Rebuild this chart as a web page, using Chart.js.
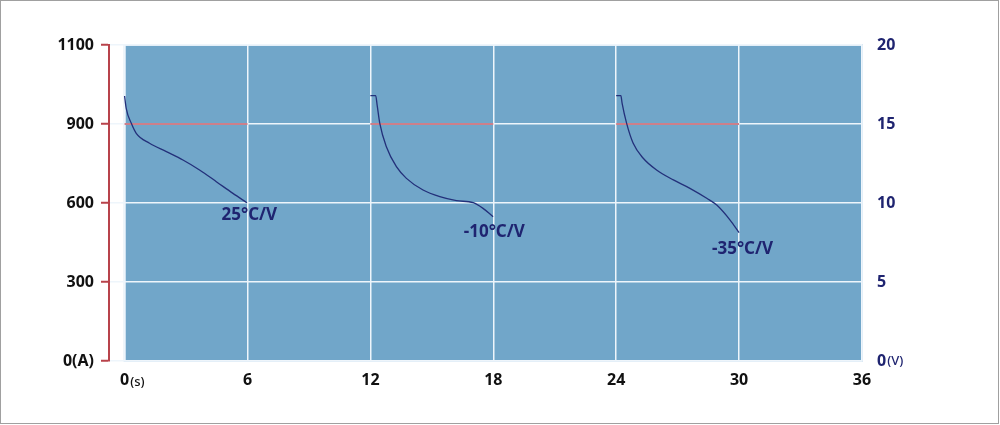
<!DOCTYPE html>
<html>
<head>
<meta charset="utf-8">
<script src="https://cdn.jsdelivr.net/npm/chart.js@4.4.1/dist/chart.umd.min.js"></script>
<style>
html,body{margin:0;padding:0;background:#fff;}
#wrap{width:1000px;height:425px;}
</style>
</head>
<body>
<div id="wrap"><canvas id="c" width="1000" height="425"></canvas></div>
<script>
// ---- data ----
const timeTicks = [0, 6, 12, 18, 24, 30, 36];
const voltTicks = [0, 5, 10, 15, 20];
const ampLabels = ['0(A)', '300', '600', '900', '1100'];

const curve25T = [0, 0.08, 0.33, 0.57, 1.22, 2.04, 2.85, 3.66, 4.48, 5.29, 5.97];
const curve25V = [16.77, 15.99, 15.04, 14.41, 13.78, 13.25, 12.72, 12.09, 11.35, 10.61, 10.02];

const curveM10T = [12, 12.26, 12.33, 12.46, 12.78, 13.27, 13.76, 14.57, 15.39, 16.2, 17.02, 17.5, 17.99];
const curveM10V = [16.79, 16.79, 16.2, 15.04, 13.56, 12.30, 11.56, 10.82, 10.40, 10.15, 10.02, 9.66, 9.13];

const curveM35T = [24, 24.23, 24.29, 24.51, 24.83, 25.32, 25.97, 26.79, 27.6, 28.42, 28.91, 29.56, 30.0];
const curveM35V = [16.79, 16.79, 16.3, 15.04, 13.78, 12.83, 12.09, 11.46, 10.93, 10.30, 9.87, 8.92, 8.12];

const refStartT = [0, 12, 24];
const refEndT = [6, 18, 30];
const refV = 15;

const curveLabels = ['25°C/V', '-10°C/V', '-35°C/V'];
const labelT = [6.09, 18.05, 30.17];
const labelV = [9.24, 8.13, 7.09];

// ---- build ----
const toPts = (ts, vs) => ts.map((t, i) => ({x: t, y: vs[i]}));
const refPts = [];
refStartT.forEach((s, i) => {
  refPts.push({x: s, y: refV}, {x: refEndT[i], y: refV}, {x: refEndT[i], y: null});
});

const NAVY = '#1f2470';
const FONT = '"Noto Sans", "DejaVu Sans", sans-serif';

const curveStyle = {
  borderColor: '#23307a', borderWidth: 1.3, pointRadius: 0, fill: false,
  cubicInterpolationMode: 'monotone', yAxisID: 'yR', order: 1
};

const decor = {
  id: 'decor',
  beforeDraw(chart) {
    const {ctx, scales} = chart;
    const x = scales.x, y = scales.yR;
    ctx.save();
    ctx.fillStyle = '#ffffff';
    ctx.fillRect(0, 0, chart.width, chart.height);
    const l = x.getPixelForValue(0), r = x.getPixelForValue(36);
    const t = y.getPixelForValue(20), b = y.getPixelForValue(0);
    ctx.fillStyle = '#71a6c9';
    ctx.fillRect(l, t, r - l, b - t);
    ctx.strokeStyle = '#dbe9f4';
    ctx.lineWidth = 2;
    ctx.strokeRect(l, t, r - l, b - t);
    ctx.restore();
  },
  afterDraw(chart) {
    const {ctx, scales} = chart;
    const x = scales.x, y = scales.yR;
    ctx.save();
    // curve labels
    ctx.fillStyle = NAVY;
    ctx.font = 'bold 17px ' + FONT;
    ctx.textAlign = 'center';
    ctx.textBaseline = 'middle';
    curveLabels.forEach((s, i) => {
      ctx.fillText(s, x.getPixelForValue(labelT[i]), y.getPixelForValue(labelV[i]));
    });
    // unit suffixes
    ctx.textAlign = 'left';
    ctx.font = 'bold 16px ' + FONT;
    const w0 = ctx.measureText('0').width;
    ctx.font = '500 13px ' + FONT;
    ctx.fillStyle = '#111';
    ctx.fillText('(s)', x.getPixelForValue(0) + w0 / 2 + 1, 382);
    ctx.fillStyle = NAVY;
    ctx.fillText('(V)', y.left + 15 + w0 + 1, y.getPixelForValue(0) + 0.5);
    // outer frame
    ctx.strokeStyle = '#a0a0a0';
    ctx.lineWidth = 1;
    ctx.strokeRect(0.5, 0.5, 998, 423);
    ctx.restore();
  }
};

new Chart(document.getElementById('c'), {
  type: 'line',
  data: {
    datasets: [
      Object.assign({data: toPts(curve25T, curve25V)}, curveStyle),
      Object.assign({data: toPts(curveM10T, curveM10V)}, curveStyle),
      Object.assign({data: toPts(curveM35T, curveM35V)}, curveStyle),
      {data: refPts, borderColor: '#cc7f8a', borderWidth: 2, pointRadius: 0, fill: false,
       spanGaps: false, tension: 0, yAxisID: 'yR', order: 2}
    ]
  },
  options: {
    responsive: false,
    animation: false,
    devicePixelRatio: 1,
    layout: {padding: {top: 45, left: 0, right: 0, bottom: 0}},
    plugins: {legend: {display: false}, tooltip: {enabled: false}},
    scales: {
      x: {
        type: 'linear', min: -0.76, max: 36,
        afterBuildTicks: s => { s.ticks = timeTicks.map(v => ({value: v})); },
        afterFit: s => { s.height = 64; },
        grid: {color: '#eef5fb', lineWidth: 1.5, drawTicks: false},
        border: {display: false},
        ticks: {color: '#111', font: {family: FONT, size: 16, weight: 'bold'}, padding: 10,
                maxRotation: 0, autoSkip: false}
      },
      yL: {
        type: 'linear', position: 'left', min: 0, max: 20,
        afterBuildTicks: s => { s.ticks = voltTicks.map(v => ({value: v})); },
        afterFit: s => { s.width = 109; },
        grid: {color: '#eef5fb', lineWidth: 1.5, drawTicks: true, tickLength: 8, tickColor: '#b8434b', tickWidth: 2},
        border: {display: true, color: '#b8434b', width: 2},
        ticks: {color: '#111', font: {family: FONT, size: 16, weight: 'bold'}, padding: 7,
                callback: (v) => ampLabels[voltTicks.indexOf(v)]}
      },
      yR: {
        type: 'linear', position: 'right', min: 0, max: 20,
        afterBuildTicks: s => { s.ticks = voltTicks.map(v => ({value: v})); },
        afterFit: s => { s.width = 138; },
        grid: {display: false, drawTicks: false},
        border: {display: false},
        ticks: {color: NAVY, font: {family: FONT, size: 16, weight: 'bold'}, padding: 15}
      }
    }
  },
  plugins: [decor]
});
</script>
</body>
</html>
